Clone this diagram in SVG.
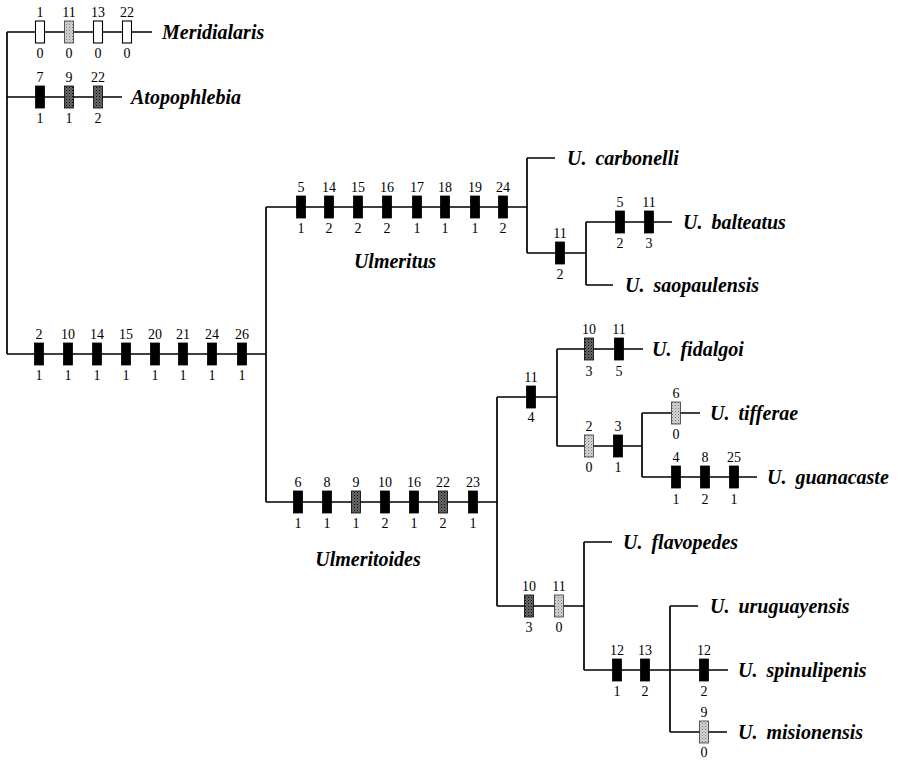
<svg xmlns="http://www.w3.org/2000/svg" width="912" height="761" viewBox="0 0 912 761">
<defs>
<pattern id="pd" width="3" height="3" patternUnits="userSpaceOnUse"><rect width="3" height="3" fill="#6a6a6a"/><rect x="0" y="0" width="1" height="1" fill="#000"/><rect x="1.5" y="1.5" width="1" height="1" fill="#222"/></pattern>
<pattern id="pl" width="3" height="3" patternUnits="userSpaceOnUse"><rect width="3" height="3" fill="#d4d4d4"/><rect x="0" y="0" width="1" height="1" fill="#777"/><rect x="1.5" y="1.5" width="1" height="1" fill="#999"/></pattern>
</defs>
<style>
.ln{stroke:#000;stroke-width:1.7;fill:none}
.b{fill:#000;stroke:#000;stroke-width:0.8}
.d{fill:url(#pd);stroke:#000;stroke-width:0.8}
.l{fill:url(#pl);stroke:#333;stroke-width:0.8}
.w{fill:#fff;stroke:#000;stroke-width:1.1}
.n{font-family:"Liberation Serif","Times New Roman",serif;font-size:14px;text-anchor:middle;fill:#000}
.t{font-family:"Liberation Serif","Times New Roman",serif;font-size:20px;font-weight:bold;font-style:italic;fill:#000;word-spacing:4px}
</style>
<rect width="912" height="761" fill="#fff"/>
<g id="connectors">
<path class="ln" d="M7,32V354 M7,32H152 M7,97H122 M7,354H266 M266,207V502 M266,207H527 M527,158V253 M527,158H555 M527,253H586 M586,222V285 M586,222H672 M586,285H613 M266,502H497 M497,397V606 M497,397H557 M557,349V446 M557,349H643 M557,446H642 M642,413V477 M642,413H700 M642,477H757 M497,606H584 M584,542V670 M584,542H612 M584,670H728 M670,606V732 M670,606H698 M670,732H727"/>
</g>
<g id="meridialaris">
<rect class="w" x="35.5" y="21" width="9" height="22"/><rect class="l" x="64.5" y="21" width="9" height="22"/><rect class="w" x="93.5" y="21" width="9" height="22"/><rect class="w" x="122.5" y="21" width="9" height="22"/>
<text class="n" x="40" y="17">1</text><text class="n" x="69" y="17">11</text><text class="n" x="98" y="17">13</text><text class="n" x="127" y="17">22</text>
<text class="n" x="40" y="58">0</text><text class="n" x="69" y="58">0</text><text class="n" x="98" y="58">0</text><text class="n" x="127" y="58">0</text>
<text class="t" x="162" y="39">Meridialaris</text>
</g>
<g id="atopophlebia">
<rect class="b" x="35.5" y="86" width="9" height="22"/><rect class="d" x="64.5" y="86" width="9" height="22"/><rect class="d" x="93.5" y="86" width="9" height="22"/>
<text class="n" x="40" y="82">7</text><text class="n" x="69" y="82">9</text><text class="n" x="98" y="82">22</text>
<text class="n" x="40" y="123">1</text><text class="n" x="69" y="123">1</text><text class="n" x="98" y="123">2</text>
<text class="t" x="131" y="104">Atopophlebia</text>
</g>
<g id="ulmeritini">
<rect class="b" x="34.5" y="343" width="9" height="22"/><rect class="b" x="63.5" y="343" width="9" height="22"/><rect class="b" x="92.5" y="343" width="9" height="22"/><rect class="b" x="121.5" y="343" width="9" height="22"/><rect class="b" x="150.5" y="343" width="9" height="22"/><rect class="b" x="178.5" y="343" width="9" height="22"/><rect class="b" x="207.5" y="343" width="9" height="22"/><rect class="b" x="237.5" y="343" width="9" height="22"/>
<text class="n" x="39" y="339">2</text><text class="n" x="68" y="339">10</text><text class="n" x="97" y="339">14</text><text class="n" x="126" y="339">15</text><text class="n" x="155" y="339">20</text><text class="n" x="183" y="339">21</text><text class="n" x="212" y="339">24</text><text class="n" x="242" y="339">26</text>
<text class="n" x="39" y="380">1</text><text class="n" x="68" y="380">1</text><text class="n" x="97" y="380">1</text><text class="n" x="126" y="380">1</text><text class="n" x="155" y="380">1</text><text class="n" x="183" y="380">1</text><text class="n" x="212" y="380">1</text><text class="n" x="242" y="380">1</text>
</g>
<g id="ulmeritus">
<rect class="b" x="296.5" y="196" width="9" height="22"/><rect class="b" x="324.5" y="196" width="9" height="22"/><rect class="b" x="353.5" y="196" width="9" height="22"/><rect class="b" x="382.5" y="196" width="9" height="22"/><rect class="b" x="412.5" y="196" width="9" height="22"/><rect class="b" x="440.5" y="196" width="9" height="22"/><rect class="b" x="470.5" y="196" width="9" height="22"/><rect class="b" x="498.5" y="196" width="9" height="22"/>
<text class="n" x="301" y="192">5</text><text class="n" x="329" y="192">14</text><text class="n" x="358" y="192">15</text><text class="n" x="387" y="192">16</text><text class="n" x="417" y="192">17</text><text class="n" x="445" y="192">18</text><text class="n" x="475" y="192">19</text><text class="n" x="503" y="192">24</text>
<text class="n" x="301" y="233">1</text><text class="n" x="329" y="233">2</text><text class="n" x="358" y="233">2</text><text class="n" x="387" y="233">2</text><text class="n" x="417" y="233">1</text><text class="n" x="445" y="233">1</text><text class="n" x="475" y="233">1</text><text class="n" x="503" y="233">2</text>
<text class="t" x="395" y="268" text-anchor="middle">Ulmeritus</text>
</g>
<g id="u-carbonelli"><text class="t" x="567" y="165">U. carbonelli</text></g>
<g id="clade-balteatus-saopaulensis">
<rect class="b" x="555.5" y="242" width="9" height="22"/>
<text class="n" x="560" y="238">11</text><text class="n" x="560" y="279">2</text>
</g>
<g id="u-balteatus">
<rect class="b" x="615.5" y="211" width="9" height="22"/><rect class="b" x="644.5" y="211" width="9" height="22"/>
<text class="n" x="620" y="207">5</text><text class="n" x="649" y="207">11</text>
<text class="n" x="620" y="248">2</text><text class="n" x="649" y="248">3</text>
<text class="t" x="683" y="229">U. balteatus</text>
</g>
<g id="u-saopaulensis"><text class="t" x="625" y="292">U. saopaulensis</text></g>
<g id="ulmeritoides">
<rect class="b" x="293.5" y="491" width="9" height="22"/><rect class="b" x="322.5" y="491" width="9" height="22"/><rect class="d" x="351.5" y="491" width="9" height="22"/><rect class="b" x="380.5" y="491" width="9" height="22"/><rect class="b" x="409.5" y="491" width="9" height="22"/><rect class="d" x="438.5" y="491" width="9" height="22"/><rect class="b" x="468.5" y="491" width="9" height="22"/>
<text class="n" x="298" y="487">6</text><text class="n" x="327" y="487">8</text><text class="n" x="356" y="487">9</text><text class="n" x="385" y="487">10</text><text class="n" x="414" y="487">16</text><text class="n" x="443" y="487">22</text><text class="n" x="473" y="487">23</text>
<text class="n" x="298" y="528">1</text><text class="n" x="327" y="528">1</text><text class="n" x="356" y="528">1</text><text class="n" x="385" y="528">2</text><text class="n" x="414" y="528">1</text><text class="n" x="443" y="528">2</text><text class="n" x="473" y="528">1</text>
<text class="t" x="368" y="566" text-anchor="middle">Ulmeritoides</text>
</g>
<g id="clade-fidalgoi-guanacaste">
<rect class="b" x="526.5" y="386" width="9" height="22"/>
<text class="n" x="531" y="382">11</text><text class="n" x="531" y="422">4</text>
</g>
<g id="u-fidalgoi">
<rect class="d" x="584.5" y="338" width="9" height="22"/><rect class="b" x="614.5" y="338" width="9" height="22"/>
<text class="n" x="589" y="334">10</text><text class="n" x="619" y="334">11</text>
<text class="n" x="589" y="376">3</text><text class="n" x="619" y="376">5</text>
<text class="t" x="652" y="356">U. fidalgoi</text>
</g>
<g id="clade-tifferae-guanacaste">
<rect class="l" x="584.5" y="435" width="9" height="22"/><rect class="b" x="613.5" y="435" width="9" height="22"/>
<text class="n" x="589" y="431">2</text><text class="n" x="618" y="431">3</text>
<text class="n" x="589" y="472">0</text><text class="n" x="618" y="472">1</text>
</g>
<g id="u-tifferae">
<rect class="l" x="671.5" y="402" width="9" height="22"/>
<text class="n" x="676" y="398">6</text><text class="n" x="676" y="439">0</text>
<text class="t" x="710" y="420">U. tifferae</text>
</g>
<g id="u-guanacaste">
<rect class="b" x="671.5" y="466" width="9" height="22"/><rect class="b" x="700.5" y="466" width="9" height="22"/><rect class="b" x="729.5" y="466" width="9" height="22"/>
<text class="n" x="676" y="462">4</text><text class="n" x="705" y="462">8</text><text class="n" x="734" y="462">25</text>
<text class="n" x="676" y="504">1</text><text class="n" x="705" y="504">2</text><text class="n" x="734" y="504">1</text>
<text class="t" x="767" y="484">U. guanacaste</text>
</g>
<g id="clade-flavopedes-misionensis">
<rect class="d" x="524.5" y="595" width="9" height="22"/><rect class="l" x="554.5" y="595" width="9" height="22"/>
<text class="n" x="529" y="591">10</text><text class="n" x="559" y="591">11</text>
<text class="n" x="529" y="632">3</text><text class="n" x="559" y="632">0</text>
</g>
<g id="u-flavopedes"><text class="t" x="623" y="549">U. flavopedes</text></g>
<g id="clade-uruguayensis-misionensis">
<rect class="b" x="612.5" y="659" width="9" height="22"/><rect class="b" x="640.5" y="659" width="9" height="22"/>
<text class="n" x="617" y="655">12</text><text class="n" x="645" y="655">13</text>
<text class="n" x="617" y="696">1</text><text class="n" x="645" y="696">2</text>
</g>
<g id="u-uruguayensis"><text class="t" x="710" y="613">U. uruguayensis</text></g>
<g id="u-spinulipenis">
<rect class="b" x="699.5" y="659" width="9" height="22"/>
<text class="n" x="704" y="655">12</text><text class="n" x="704" y="696">2</text>
<text class="t" x="738" y="677">U. spinulipenis</text>
</g>
<g id="u-misionensis">
<rect class="l" x="699.5" y="721" width="9" height="22"/>
<text class="n" x="704" y="717">9</text><text class="n" x="704" y="757">0</text>
<text class="t" x="738" y="739">U. misionensis</text>
</g>
</svg>
